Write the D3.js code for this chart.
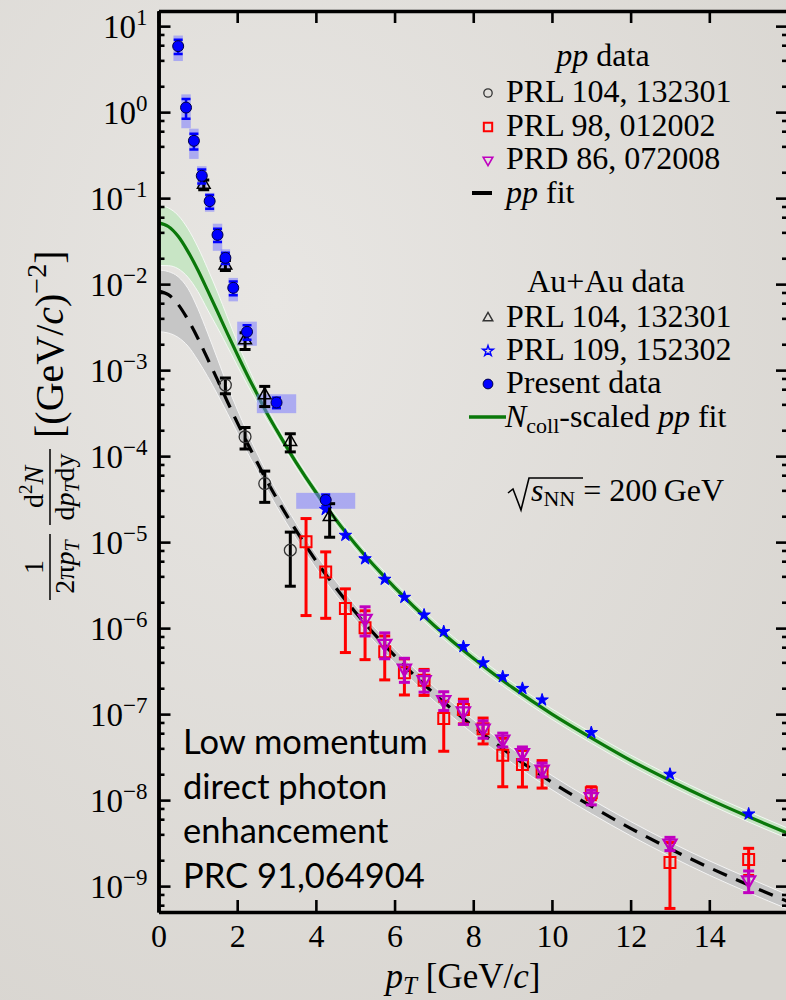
<!DOCTYPE html>
<html>
<head>
<meta charset="utf-8">
<script src="https://cdn.jsdelivr.net/npm/d3@7"></script>
<style>
  body { margin: 0; background: #e1dfdb; }
  svg { display: block; }
</style>
</head>
<body>
<script>
// ---- data ----
// present data (Au+Au, filled blue circles)
const presPt   = [0.5, 0.7, 0.9, 1.1, 1.3, 1.5, 1.7, 1.9, 2.25, 3.0, 4.25];
const presVal  = [5.85, 1.13, 0.464, 0.182, 0.0923, 0.0374, 0.0202, 0.00906, 0.00279, 4.2e-4, 3.09e-5];
const presStat = [1.1, 0.29, 0.097, 0.034, 0.0168, 0.0066, 0.003, 0.00165, 0.00053, 5.9e-5, 4.8e-6];
const presSys  = [1.92, 0.48, 0.178, 0.053, 0.0228, 0.013, 0.0052, 0.00275, 0.00087, 1.04e-4, 6.5e-6];
const presBin  = [0.12, 0.12, 0.12, 0.12, 0.12, 0.12, 0.12, 0.12, 0.25, 0.5, 0.75];

// Au+Au PRL 104, 132301 (open triangles)
const auPt  = [1.15, 1.7, 2.2, 2.7, 3.35, 4.35];
const auVal = [0.144, 0.0166, 2.23e-3, 5.12e-4, 1.47e-4, 1.97e-5];
const auErr = [0.019, 0.0022, 4.9e-4, 1.35e-4, 3.5e-5, 8.3e-6];

// Au+Au PRL 109, 152302 (stars)
const au109Pt  = [4.25, 4.75, 5.25, 5.75, 6.25, 6.75, 7.25, 7.75, 8.25, 8.75, 9.25, 9.75, 11, 13, 15];
const au109Val = [2.4e-5, 1.2e-5, 6.4e-6, 3.7e-6, 2.28e-6, 1.42e-6, 9.1e-7, 6.1e-7, 3.95e-7, 2.72e-7, 1.99e-7, 1.46e-7, 6.1e-8, 2.0e-8, 6.9e-9];

// pp PRL 104, 132301 (open circles)
const pp104Pt  = [1.7, 2.2, 2.7, 3.35];
const pp104Val = [6.7e-4, 1.68e-4, 4.8e-5, 8.07e-6];
const pp104Err = [1.4e-4, 4.7e-5, 1.9e-5, 5.0e-6];

// pp PRL 98, 012002 (open squares)
const pp98Pt  = [3.75, 4.25, 4.75, 5.25, 5.75, 6.25, 6.75, 7.25, 7.75, 8.25, 8.75, 9.25, 9.75, 11, 13, 15];
const pp98Val = [1.01e-5, 4.5e-6, 1.69e-6, 1.01e-6, 5.3e-7, 3.03e-7, 2.48e-7, 8.9e-8, 1.13e-7, 6.75e-8, 3.33e-8, 2.6e-8, 2.13e-8, 1.22e-8, 1.88e-9, 2.04e-9];
const pp98Err = [8.7e-6, 3.2e-6, 1.17e-6, 5.8e-7, 2.8e-7, 1.36e-7, 8.3e-8, 5.2e-8, 3.6e-8, 2.25e-8, 1.9e-8, 1.18e-8, 7.5e-9, 2.1e-9, 1.33e-9, 7.1e-10];

// pp PRD 86, 072008 (open down triangles)
const pp86Pt  = [5.25, 5.75, 6.25, 6.75, 7.25, 7.75, 8.25, 8.75, 9.25, 9.75, 11, 13, 15];
const pp86Val = [1.29e-6, 6.6e-7, 3.4e-7, 2.5e-7, 1.46e-7, 1.08e-7, 6.8e-8, 5.08e-8, 3.55e-8, 2.28e-8, 1.09e-8, 3.14e-9, 1.17e-9];
const pp86Err = [4.8e-7, 2.2e-7, 1.06e-7, 7e-8, 3.6e-8, 3.2e-8, 1.56e-8, 9.3e-9, 6e-9, 4.2e-9, 2.1e-9, 5.5e-10, 3.3e-10];

// fit curves and their bands, read at these pT knots
const fitPt  = [0, 0.25, 0.5, 0.75, 1, 1.25, 1.5, 1.75, 2, 2.25, 2.5, 2.75, 3, 3.5, 4, 5, 6, 7, 8, 9, 10, 11, 12, 13, 14, 15, 16];
const ppFit  = [8.3e-3, 7.55e-3, 5.8e-3, 3.85e-3, 2.35e-3, 1.35e-3, 7.7e-4, 4.32e-4, 2.47e-4, 1.44e-4, 8.6e-5, 5.2e-5, 3.25e-5, 1.36e-5, 6.1e-6, 1.54e-6, 4.8e-7, 1.74e-7, 7.2e-8, 3.27e-8, 1.61e-8, 8.5e-9, 4.7e-9, 2.72e-9, 1.64e-9, 1.03e-9, 6.6e-10];
const ppHi   = [1.46e-2, 1.40e-2, 1.22e-2, 8.9e-3, 5.2e-3, 2.7e-3, 1.35e-3, 6.7e-4, 3.5e-4, 1.92e-4, 1.09e-4, 6.45e-5, 3.97e-5, 1.65e-5, 7.3e-6, 1.85e-6, 5.76e-7, 2.09e-7, 8.64e-8, 3.92e-8, 1.93e-8, 1.02e-8, 5.64e-9, 3.26e-9, 1.97e-9, 1.24e-9, 7.9e-10];
const ppLo   = [2.8e-3, 2.7e-3, 2.4e-3, 1.9e-3, 1.3e-3, 8.4e-4, 5.2e-4, 3.15e-4, 1.88e-4, 1.12e-4, 6.9e-5, 4.16e-5, 2.6e-5, 1.1e-5, 5.0e-6, 1.26e-6, 3.94e-7, 1.43e-7, 5.9e-8, 2.68e-8, 1.32e-8, 6.97e-9, 3.85e-9, 2.23e-9, 1.34e-9, 8.4e-10, 5.4e-10];
const aaFit  = [0.0515, 0.0468, 0.036, 0.0239, 0.0146, 8.4e-3, 4.77e-3, 2.68e-3, 1.53e-3, 8.9e-4, 5.33e-4, 3.2e-4, 2.02e-4, 8.4e-5, 3.8e-5, 9.5e-6, 2.98e-6, 1.08e-6, 4.46e-7, 2.03e-7, 1.0e-7, 5.3e-8, 2.9e-8, 1.69e-8, 1.02e-8, 6.4e-9, 4.1e-9];
const aaHi   = [0.083, 0.077, 0.063, 0.044, 0.027, 0.0151, 8.1e-3, 4.15e-3, 2.14e-3, 1.16e-3, 6.5e-4, 3.78e-4, 2.34e-4, 9.66e-5, 4.37e-5, 1.09e-5, 3.43e-6, 1.24e-6, 5.13e-7, 2.33e-7, 1.15e-7, 6.1e-8, 3.34e-8, 1.94e-8, 1.17e-8, 7.36e-9, 4.7e-9];
const aaLo   = [0.0165, 0.0164, 0.0151, 0.012, 8.2e-3, 5.0e-3, 3.1e-3, 1.88e-3, 1.13e-3, 6.85e-4, 4.26e-4, 2.66e-4, 1.72e-4, 7.3e-5, 3.3e-5, 8.27e-6, 2.59e-6, 9.4e-7, 3.88e-7, 1.77e-7, 8.7e-8, 4.6e-8, 2.52e-8, 1.47e-8, 8.9e-9, 5.57e-9, 3.57e-9];

// axis ticks
const xTicks    = [0, 2, 4, 6, 8, 10, 12, 14];
const yExps     = [1, 0, -1, -2, -3, -4, -5, -6, -7, -8, -9];
const yMinorMul = [2, 4, 6, 8];

const noteLines = ["Low momentum", "direct photon", "enhancement", "PRC 91,064904"];

// ---- setup ----
const W = 786, H = 1000;
const SERIF = "'Liberation Serif', 'DejaVu Serif', serif";
const blue = "#0000ff", red = "#ff0000", mag = "#c000c0", green = "#0a780a";

const svg = d3.select("body").append("svg").attr("width", W).attr("height", H);

const defs = svg.append("defs");
const bg = defs.append("radialGradient").attr("id", "bg").attr("cx", "35%").attr("cy", "30%").attr("r", "85%");
bg.append("stop").attr("offset", "0%").attr("stop-color", "#e8e6e3");
bg.append("stop").attr("offset", "100%").attr("stop-color", "#d8d5d0");
svg.append("rect").attr("width", W).attr("height", H).attr("fill", "url(#bg)");

const x = d3.scaleLinear().domain([0, 16]).range([158.5, 788]);
const y = d3.scaleLog().domain([5e-10, 15]).range([912, 11]);
const [x0, x1] = x.range(), [y0, y1] = y.range();

defs.append("clipPath").attr("id", "plot")
  .append("rect").attr("x", x0).attr("y", y1).attr("width", x1 - x0).attr("height", y0 - y1);

const plot = svg.append("g").attr("clip-path", "url(#plot)");

// ---- fit bands & curves ----
const fitRows = fitPt.map((p, i) => ({p, pp: ppFit[i], ppH: ppHi[i], ppL: ppLo[i], aa: aaFit[i], aaH: aaHi[i], aaL: aaLo[i]}));
const crv = d3.curveMonotoneX;
const band = (lo, hi) => d3.area().x(d => x(d.p)).y0(d => y(d[lo])).y1(d => y(d[hi])).curve(crv);
const edge = k => d3.line().x(d => x(d.p)).y(d => y(d[k])).curve(crv);

plot.append("path").datum(fitRows).attr("d", band("ppL", "ppH")).attr("fill", "#c6c6c6");
["ppL", "ppH"].forEach(k => plot.append("path").datum(fitRows).attr("d", edge(k))
  .attr("fill", "none").attr("stroke", "#f4f4f4").attr("stroke-width", 1));
plot.append("path").datum(fitRows).attr("d", band("aaL", "aaH")).attr("fill", "#c4e4c2").attr("opacity", 0.9);
["aaL", "aaH"].forEach(k => plot.append("path").datum(fitRows).attr("d", edge(k))
  .attr("fill", "none").attr("stroke", "#f4f8f4").attr("stroke-width", 1));

plot.append("path").datum(fitRows).attr("d", edge("pp"))
  .attr("fill", "none").attr("stroke", "#000").attr("stroke-width", 3.2).attr("stroke-dasharray", "15,10");
plot.append("path").datum(fitRows).attr("d", edge("aa"))
  .attr("fill", "none").attr("stroke", green).attr("stroke-width", 3.2);

// ---- data points ----
function errorBars(g, pts, vals, errs, color, sw, cap) {
  const rows = pts.map((p, i) => ({X: x(p), hi: y(vals[i] + errs[i]), lo: y(Math.max(vals[i] - errs[i], 1e-12))}));
  const eg = g.append("g").attr("stroke", color).attr("stroke-width", sw);
  eg.selectAll(".v").data(rows).join("line").attr("x1", d => d.X).attr("x2", d => d.X).attr("y1", d => d.hi).attr("y2", d => d.lo);
  eg.selectAll(".ct").data(rows).join("line").attr("x1", d => d.X - cap).attr("x2", d => d.X + cap).attr("y1", d => d.hi).attr("y2", d => d.hi);
  eg.selectAll(".cb").data(rows).join("line").attr("x1", d => d.X - cap).attr("x2", d => d.X + cap).attr("y1", d => d.lo).attr("y2", d => d.lo);
}
function markers(g, pts, vals, type, size, fill, stroke, sw, rot) {
  g.append("g").selectAll("path").data(pts.map((p, i) => [x(p), y(vals[i])])).join("path")
    .attr("d", d3.symbol().type(type).size(size))
    .attr("transform", d => `translate(${d[0]},${d[1]})${rot ? " rotate(180)" : ""}`)
    .attr("fill", fill).attr("stroke", stroke).attr("stroke-width", sw);
}

// systematic boxes for present data
plot.append("g").selectAll("rect").data(presPt.map((p, i) => i)).join("rect")
  .attr("x", i => x(presPt[i] - presBin[i]))
  .attr("width", i => x(presPt[i] + presBin[i]) - x(presPt[i] - presBin[i]))
  .attr("y", i => y(presVal[i] + presSys[i]))
  .attr("height", i => y(presVal[i] - presSys[i]) - y(presVal[i] + presSys[i]))
  .attr("fill", "#7b7bff").attr("opacity", 0.55);

// pp data
errorBars(plot, pp98Pt, pp98Val, pp98Err, red, 3, 5.5);
markers(plot, pp98Pt, pp98Val, d3.symbolSquare, 120, "none", red, 2);
errorBars(plot, pp86Pt, pp86Val, pp86Err, mag, 3, 5.5);
markers(plot, pp86Pt, pp86Val, d3.symbolTriangle, 75, "none", mag, 2.2, true);
errorBars(plot, pp104Pt, pp104Val, pp104Err, "#000", 3, 5.5);
markers(plot, pp104Pt, pp104Val, d3.symbolCircle, 110, "none", "#333", 1.3);

// Au+Au data
markers(plot, au109Pt, au109Val, d3.symbolStar, 48, blue, blue, 1);
errorBars(plot, auPt, auVal, auErr, "#000", 3, 5.5);
markers(plot, auPt, auVal, d3.symbolTriangle, 70, "none", "#000", 1.5);
errorBars(plot, presPt, presVal, presStat, blue, 2.5, 4.5);
markers(plot, presPt, presVal, d3.symbolCircle, 95, blue, "#000044", 1);

// ---- axes ----
const yMajor = yExps.map(e => Math.pow(10, e));
const yMinor = [];
for (let e = -10; e <= 1; e++) yMinorMul.forEach(m => {
  const v = m * Math.pow(10, e);
  if (v > 5e-10 && v < 15) yMinor.push(v);
});

function styleAxis(g) {
  g.attr("font-family", SERIF).attr("font-size", 32);
  g.select(".domain").attr("stroke", "#000").attr("stroke-width", 3.5);
  g.selectAll(".tick line").attr("stroke", "#000").attr("stroke-width", 2.6);
}

// left
const gL = svg.append("g").attr("transform", `translate(${x0},0)`)
  .call(d3.axisLeft(y).tickValues(yMajor).tickSizeInner(-12).tickSizeOuter(0).tickFormat(""))
  .call(styleAxis);
gL.selectAll(".tick text").each(function(d) {
  const t = d3.select(this).attr("x", -11).attr("dy", "0.33em").attr("fill", "#000").attr("font-size", 33);
  t.append("tspan").text("10");
  const e = Math.round(Math.log10(d));
  t.append("tspan").attr("dy", -13).attr("font-size", 23).text(e < 0 ? "\u2212" + (-e) : e);
});
svg.append("g").attr("transform", `translate(${x0},0)`)
  .call(d3.axisLeft(y).tickValues(yMinor).tickSizeInner(-6).tickSizeOuter(0).tickFormat(""))
  .call(styleAxis);

// right
svg.append("g").attr("transform", `translate(${x1},0)`)
  .call(d3.axisRight(y).tickValues(yMajor).tickSizeInner(-12).tickSizeOuter(0).tickFormat(""))
  .call(styleAxis);
svg.append("g").attr("transform", `translate(${x1},0)`)
  .call(d3.axisRight(y).tickValues(yMinor).tickSizeInner(-6).tickSizeOuter(0).tickFormat(""))
  .call(styleAxis);

// bottom
svg.append("g").attr("transform", `translate(0,${y0})`)
  .call(d3.axisBottom(x).tickValues(xTicks).tickSizeInner(-12).tickSizeOuter(0).tickPadding(12))
  .call(styleAxis)
  .selectAll(".tick text").attr("fill", "#000");
// top
svg.append("g").attr("transform", `translate(0,${y1})`)
  .call(d3.axisTop(x).tickValues(xTicks).tickSizeInner(-12).tickSizeOuter(0).tickFormat(""))
  .call(styleAxis);

// x title
const xt = svg.append("text").attr("x", 463).attr("y", 988).attr("text-anchor", "middle")
  .attr("font-family", SERIF).attr("font-size", 35);
xt.append("tspan").attr("font-style", "italic").text("p");
xt.append("tspan").attr("font-style", "italic").attr("font-size", 25).attr("dy", 6).text("T");
xt.append("tspan").attr("dy", -6).text(" [GeV/");
xt.append("tspan").attr("font-style", "italic").text("c");
xt.append("tspan").text("]");

// y title (rotated)
const yt = svg.append("g").attr("transform", "translate(50,470) rotate(-90)")
  .attr("font-family", SERIF).attr("fill", "#000");
// 1 / (2 pi pT)
yt.append("text").attr("x", -97).attr("y", -7).attr("text-anchor", "middle").attr("font-size", 28).text("1");
yt.append("line").attr("x1", -130).attr("x2", -64).attr("y1", 0).attr("y2", 0).attr("stroke", "#000").attr("stroke-width", 1.5);
const den1 = yt.append("text").attr("x", -97).attr("y", 24).attr("text-anchor", "middle").attr("font-size", 28);
den1.append("tspan").text("2\u03c0");
den1.append("tspan").attr("font-style", "italic").text("p");
den1.append("tspan").attr("font-style", "italic").attr("font-size", 20).attr("dy", 5).text("T");
// d2N / (dpT dy)
const num2 = yt.append("text").attr("x", -17).attr("y", -7).attr("text-anchor", "middle").attr("font-size", 28);
num2.append("tspan").text("d");
num2.append("tspan").attr("font-size", 19).attr("dy", -11).text("2");
num2.append("tspan").attr("font-style", "italic").attr("dy", 11).text("N");
yt.append("line").attr("x1", -55).attr("x2", 21).attr("y1", 0).attr("y2", 0).attr("stroke", "#000").attr("stroke-width", 1.5);
const den2 = yt.append("text").attr("x", -17).attr("y", 24).attr("text-anchor", "middle").attr("font-size", 28);
den2.append("tspan").text("d");
den2.append("tspan").attr("font-style", "italic").text("p");
den2.append("tspan").attr("font-style", "italic").attr("font-size", 20).attr("dy", 5).text("T");
den2.append("tspan").attr("dy", -5).text("dy");
// [(GeV/c)^-2]
const unit = yt.append("text").attr("x", 32).attr("y", 13).attr("font-size", 40);
unit.append("tspan").text("[(GeV/");
unit.append("tspan").attr("font-style", "italic").text("c");
unit.append("tspan").text(")");
unit.append("tspan").attr("font-size", 28).attr("dy", -17).text("\u22122");
unit.append("tspan").attr("dy", 17).text("]");

// ---- legend ----
const leg = svg.append("g").attr("font-family", SERIF).attr("font-size", 32).attr("fill", "#000");
const ppTitle = leg.append("text").attr("x", 603).attr("y", 66).attr("text-anchor", "middle");
ppTitle.append("tspan").attr("font-style", "italic").text("pp");
ppTitle.append("tspan").text(" data");

const legMx = 488, legTx = 506;
const ppItems = [
  {t: "PRL 104, 132301", y: 102, sym: d3.symbolCircle, size: 55, fill: "none", stroke: "#333", sw: 1.3},
  {t: "PRL 98, 012002", y: 136, sym: d3.symbolSquare, size: 70, fill: "none", stroke: red, sw: 2},
  {t: "PRD 86, 072008", y: 169, sym: d3.symbolTriangle, size: 40, fill: "none", stroke: mag, sw: 1.6, rot: true}
];
const auItems = [
  {t: "PRL 104, 132301", y: 327, sym: d3.symbolTriangle, size: 40, fill: "none", stroke: "#333", sw: 1.4},
  {t: "PRL 109, 152302", y: 360, sym: d3.symbolStar, size: 35, fill: "none", stroke: blue, sw: 1.4},
  {t: "Present data", y: 393, sym: d3.symbolCircle, size: 75, fill: blue, stroke: "#000044", sw: 1}
];
[...ppItems, ...auItems].forEach(it => {
  leg.append("path").attr("d", d3.symbol().type(it.sym).size(it.size))
    .attr("transform", `translate(${legMx},${it.y - 9})${it.rot ? " rotate(180)" : ""}`)
    .attr("fill", it.fill).attr("stroke", it.stroke).attr("stroke-width", it.sw);
  leg.append("text").attr("x", legTx).attr("y", it.y).text(it.t);
});
leg.append("line").attr("x1", 472).attr("x2", 492).attr("y1", 193).attr("y2", 193).attr("stroke", "#000").attr("stroke-width", 4);
const ppFitT = leg.append("text").attr("x", legTx).attr("y", 203);
ppFitT.append("tspan").attr("font-style", "italic").text("pp");
ppFitT.append("tspan").text(" fit");

leg.append("text").attr("x", 606).attr("y", 292).attr("text-anchor", "middle").text("Au+Au data");
leg.append("line").attr("x1", 469).attr("x2", 506).attr("y1", 417).attr("y2", 417).attr("stroke", green).attr("stroke-width", 3.5);
const nT = leg.append("text").attr("x", 505).attr("y", 427);
nT.append("tspan").attr("font-style", "italic").text("N");
nT.append("tspan").attr("font-size", 22).attr("dy", 6).text("coll");
nT.append("tspan").attr("dy", -6).text("-scaled ");
nT.append("tspan").attr("font-style", "italic").text("pp");
nT.append("tspan").text(" fit");

// sqrt(s_NN) = 200 GeV
leg.append("path").attr("d", "M508,493 L513,489 L521,510 L529,478 L583,478")
  .attr("fill", "none").attr("stroke", "#000").attr("stroke-width", 1.6);
const sT = leg.append("text").attr("x", 531).attr("y", 501);
sT.append("tspan").attr("font-style", "italic").text("s");
sT.append("tspan").attr("font-size", 22).attr("dy", 5).text("NN");
sT.append("tspan").attr("dy", -5).text(" = 200\u2009GeV");

// ---- annotation ----
svg.append("g").attr("font-family", "Lato, 'Open Sans', sans-serif").attr("font-size", 34.5).attr("fill", "#000")
  .selectAll("text").data(noteLines).join("text")
  .attr("x", 183).attr("y", (d, i) => 754 + i * 44.7).text(d => d);
</script>
</body>
</html>
